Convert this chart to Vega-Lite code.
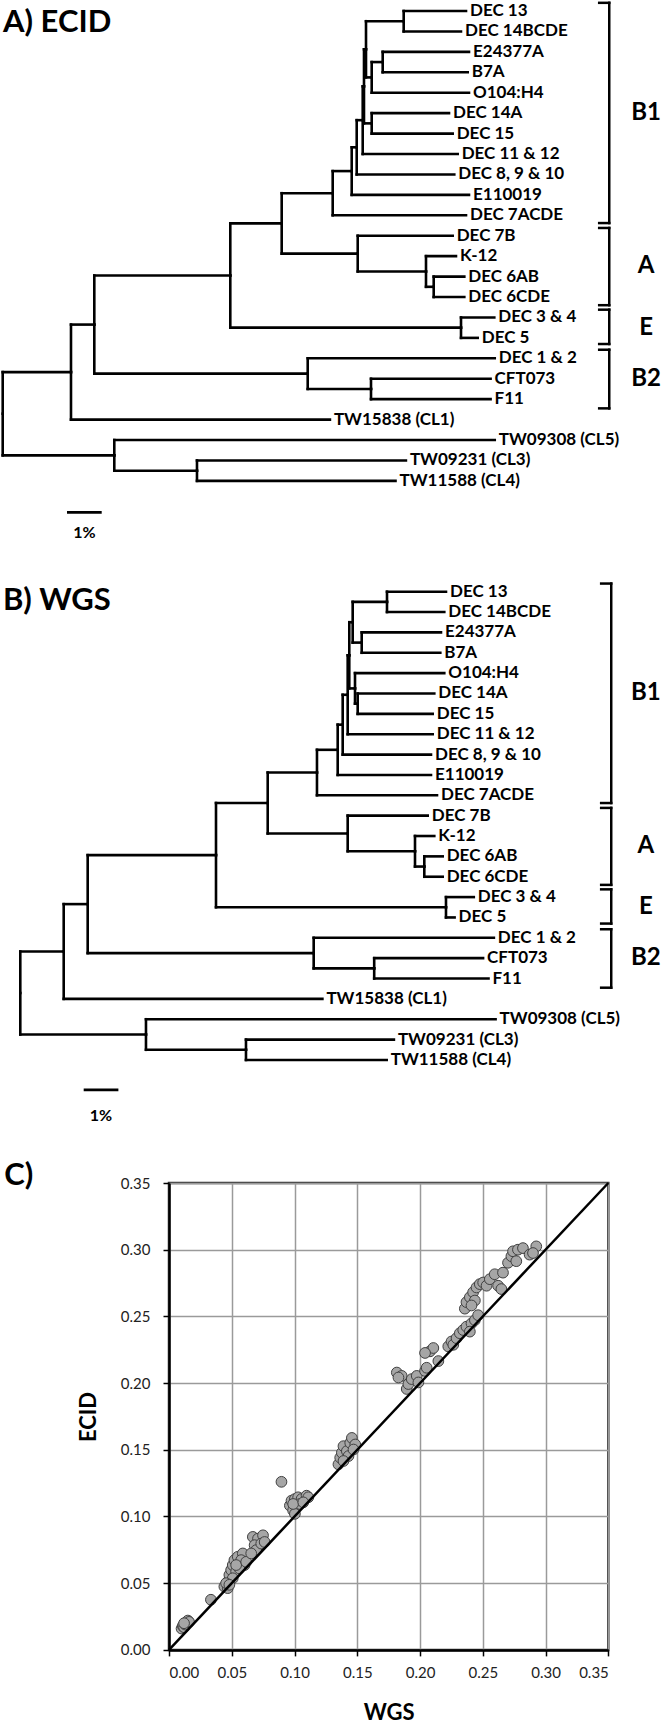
{
  "$schema": "https://vega.github.io/schema/vega-lite/v6.json",
  "padding": 0,
  "background": "white",
  "bounds": "flush",
  "spacing": 0,
  "config": {"view": {"stroke": null}, "font": "Lato"},
  "datasets": {
    "treeA": [
      {"name":"DEC 13","leaf":true,"d":13.352,"y":0,"pd":11.556,"py":0.5},
      {"name":"DEC 14BCDE","leaf":true,"d":13.207,"y":1,"pd":11.556,"py":0.5},
      {"name":"E24377A","leaf":true,"d":13.438,"y":2,"pd":10.951,"py":2.5},
      {"name":"B7A","leaf":true,"d":13.401,"y":3,"pd":10.951,"py":2.5},
      {"name":"O104:H4","leaf":true,"d":13.438,"y":4,"pd":10.634,"py":3.25},
      {"name":"DEC 14A","leaf":true,"d":12.862,"y":5,"pd":10.634,"py":5.5},
      {"name":"DEC 15","leaf":true,"d":12.968,"y":6,"pd":10.634,"py":5.5},
      {"name":"DEC 11 & 12","leaf":true,"d":13.112,"y":7,"pd":10.375,"py":5.344},
      {"name":"DEC 8, 9 & 10","leaf":true,"d":13.014,"y":8,"pd":10.202,"py":6.672},
      {"name":"E110019","leaf":true,"d":13.438,"y":9,"pd":10.058,"py":7.836},
      {"name":"DEC 7ACDE","leaf":true,"d":13.352,"y":10,"pd":9.510,"py":8.918},
      {"name":"DEC 7B","leaf":true,"d":12.968,"y":11,"pd":10.231,"py":11.875},
      {"name":"K-12","leaf":true,"d":13.063,"y":12,"pd":12.199,"py":12.75},
      {"name":"DEC 6AB","leaf":true,"d":13.303,"y":13,"pd":12.421,"py":13.5},
      {"name":"DEC 6CDE","leaf":true,"d":13.303,"y":14,"pd":12.421,"py":13.5},
      {"name":"DEC 3 & 4","leaf":true,"d":14.167,"y":15,"pd":13.208,"py":15.5},
      {"name":"DEC 5","leaf":true,"d":13.689,"y":16,"pd":13.208,"py":15.5},
      {"name":"DEC 1 & 2","leaf":true,"d":14.18,"y":17,"pd":8.790,"py":17.75},
      {"name":"CFT073","leaf":true,"d":14.06,"y":18,"pd":10.614,"py":18.5},
      {"name":"F11","leaf":true,"d":14.06,"y":19,"pd":10.614,"py":18.5},
      {"name":"TW15838 (CL1)","leaf":true,"d":9.43,"y":20,"pd":1.968,"py":17.674},
      {"name":"TW09308 (CL5)","leaf":true,"d":14.18,"y":21,"pd":3.216,"py":21.75},
      {"name":"TW09231 (CL3)","leaf":true,"d":11.62,"y":22,"pd":5.599,"py":22.5},
      {"name":"TW11588 (CL4)","leaf":true,"d":11.32,"y":23,"pd":5.599,"py":22.5},
      {"name":"n1","leaf":false,"d":11.556,"y":0.5,"pd":10.470,"py":1.875},
      {"name":"n2","leaf":false,"d":10.951,"y":2.5,"pd":10.634,"py":3.25},
      {"name":"n3","leaf":false,"d":10.634,"y":3.25,"pd":10.470,"py":1.875},
      {"name":"n4","leaf":false,"d":10.634,"y":5.5,"pd":10.412,"py":3.688},
      {"name":"n5","leaf":false,"d":10.470,"y":1.875,"pd":10.412,"py":3.688},
      {"name":"n6","leaf":false,"d":10.412,"y":3.688,"pd":10.375,"py":5.344},
      {"name":"n7","leaf":false,"d":10.375,"y":5.344,"pd":10.202,"py":6.672},
      {"name":"n8","leaf":false,"d":10.202,"y":6.672,"pd":10.058,"py":7.836},
      {"name":"n9","leaf":false,"d":10.058,"y":7.836,"pd":9.510,"py":8.918},
      {"name":"n10","leaf":false,"d":9.510,"y":8.918,"pd":8.040,"py":10.397},
      {"name":"nA1","leaf":false,"d":12.421,"y":13.5,"pd":12.199,"py":12.75},
      {"name":"nA2","leaf":false,"d":12.199,"y":12.75,"pd":10.231,"py":11.875},
      {"name":"nA3","leaf":false,"d":10.231,"y":11.875,"pd":8.040,"py":10.397},
      {"name":"n11","leaf":false,"d":8.040,"y":10.397,"pd":6.559,"py":12.948},
      {"name":"nE","leaf":false,"d":13.208,"y":15.5,"pd":6.559,"py":12.948},
      {"name":"n12","leaf":false,"d":6.559,"y":12.948,"pd":2.640,"py":15.349},
      {"name":"nB2a","leaf":false,"d":10.614,"y":18.5,"pd":8.790,"py":17.75},
      {"name":"nB2","leaf":false,"d":8.790,"y":17.75,"pd":2.640,"py":15.349},
      {"name":"n13","leaf":false,"d":2.640,"y":15.349,"pd":1.968,"py":17.674},
      {"name":"n14","leaf":false,"d":1.968,"y":17.674,"pd":0,"py":19.712},
      {"name":"nT1","leaf":false,"d":5.599,"y":22.5,"pd":3.216,"py":21.75},
      {"name":"nT2","leaf":false,"d":3.216,"y":21.75,"pd":0,"py":19.712}
    ],
    "treeB": [
      {"name":"DEC 13","leaf":true,"d":12.268,"y":0,"pd":10.568,"py":0.5},
      {"name":"DEC 14BCDE","leaf":true,"d":12.219,"y":1,"pd":10.568,"py":0.5},
      {"name":"E24377A","leaf":true,"d":12.124,"y":2,"pd":9.839,"py":2.5},
      {"name":"B7A","leaf":true,"d":12.104,"y":3,"pd":9.839,"py":2.5},
      {"name":"O104:H4","leaf":true,"d":12.219,"y":4,"pd":9.646,"py":4.75},
      {"name":"DEC 14A","leaf":true,"d":11.931,"y":5,"pd":9.723,"py":5.5},
      {"name":"DEC 15","leaf":true,"d":11.885,"y":6,"pd":9.723,"py":5.5},
      {"name":"DEC 11 & 12","leaf":true,"d":11.885,"y":7,"pd":9.435,"py":5.063},
      {"name":"DEC 8, 9 & 10","leaf":true,"d":11.836,"y":8,"pd":9.291,"py":6.531},
      {"name":"E110019","leaf":true,"d":11.836,"y":9,"pd":9.147,"py":7.766},
      {"name":"DEC 7ACDE","leaf":true,"d":12.009,"y":10,"pd":8.550,"py":8.883},
      {"name":"DEC 7B","leaf":true,"d":11.741,"y":11,"pd":9.435,"py":11.875},
      {"name":"K-12","leaf":true,"d":11.931,"y":12,"pd":11.375,"py":12.75},
      {"name":"DEC 6AB","leaf":true,"d":12.173,"y":13,"pd":11.643,"py":13.5},
      {"name":"DEC 6CDE","leaf":true,"d":12.173,"y":14,"pd":11.643,"py":13.5},
      {"name":"DEC 3 & 4","leaf":true,"d":13.069,"y":15,"pd":12.268,"py":15.5},
      {"name":"DEC 5","leaf":true,"d":12.516,"y":16,"pd":12.268,"py":15.5},
      {"name":"DEC 1 & 2","leaf":true,"d":13.648,"y":17,"pd":8.455,"py":17.75},
      {"name":"CFT073","leaf":true,"d":13.337,"y":18,"pd":10.199,"py":18.5},
      {"name":"F11","leaf":true,"d":13.493,"y":19,"pd":10.199,"py":18.5},
      {"name":"TW15838 (CL1)","leaf":true,"d":8.706,"y":20,"pd":1.251,"py":17.672},
      {"name":"TW09308 (CL5)","leaf":true,"d":13.697,"y":21,"pd":3.622,"py":21.75},
      {"name":"TW09231 (CL3)","leaf":true,"d":10.767,"y":22,"pd":6.504,"py":22.5},
      {"name":"TW11588 (CL4)","leaf":true,"d":10.559,"y":23,"pd":6.504,"py":22.5},
      {"name":"m1","leaf":false,"d":10.568,"y":0.5,"pd":9.579,"py":1.5},
      {"name":"m2","leaf":false,"d":9.839,"y":2.5,"pd":9.579,"py":1.5},
      {"name":"m3","leaf":false,"d":9.579,"y":1.5,"pd":9.481,"py":3.125},
      {"name":"m4","leaf":false,"d":9.723,"y":5.5,"pd":9.646,"py":4.75},
      {"name":"m5","leaf":false,"d":9.646,"y":4.75,"pd":9.481,"py":3.125},
      {"name":"m6","leaf":false,"d":9.481,"y":3.125,"pd":9.435,"py":5.063},
      {"name":"m7","leaf":false,"d":9.435,"y":5.063,"pd":9.291,"py":6.531},
      {"name":"m8","leaf":false,"d":9.291,"y":6.531,"pd":9.147,"py":7.766},
      {"name":"m9","leaf":false,"d":9.147,"y":7.766,"pd":8.550,"py":8.883},
      {"name":"m10","leaf":false,"d":8.550,"y":8.883,"pd":7.130,"py":10.379},
      {"name":"mA1","leaf":false,"d":11.643,"y":13.5,"pd":11.375,"py":12.75},
      {"name":"mA2","leaf":false,"d":11.375,"y":12.75,"pd":9.435,"py":11.875},
      {"name":"mA3","leaf":false,"d":9.435,"y":11.875,"pd":7.130,"py":10.379},
      {"name":"m11","leaf":false,"d":7.130,"y":10.379,"pd":5.640,"py":12.940},
      {"name":"mE","leaf":false,"d":12.268,"y":15.5,"pd":5.640,"py":12.940},
      {"name":"m12","leaf":false,"d":5.640,"y":12.940,"pd":1.942,"py":15.345},
      {"name":"mB2a","leaf":false,"d":10.199,"y":18.5,"pd":8.455,"py":17.75},
      {"name":"mB2","leaf":false,"d":8.455,"y":17.75,"pd":1.942,"py":15.345},
      {"name":"m13","leaf":false,"d":1.942,"y":15.345,"pd":1.251,"py":17.672},
      {"name":"m14","leaf":false,"d":1.251,"y":17.672,"pd":0,"py":19.711},
      {"name":"mT1","leaf":false,"d":6.504,"y":22.5,"pd":3.622,"py":21.75},
      {"name":"mT2","leaf":false,"d":3.622,"y":21.75,"pd":0,"py":19.711}
    ],
    "groups": [
      {"group":"B1","y0":-0.4,"y1":10.38,"mid":5},
      {"group":"A","y0":10.62,"y1":14.4,"mid":12.5},
      {"group":"E","y0":14.62,"y1":16.3,"mid":15.5},
      {"group":"B2","y0":16.58,"y1":19.45,"mid":18}
    ],
    "scatter": [
      {"wgs":0.010,"ecid":0.016},{"wgs":0.011,"ecid":0.018},{"wgs":0.012,"ecid":0.017},{"wgs":0.013,"ecid":0.019},
      {"wgs":0.014,"ecid":0.021},{"wgs":0.015,"ecid":0.022},{"wgs":0.016,"ecid":0.021},{"wgs":0.012,"ecid":0.020},
      {"wgs":0.0334,"ecid":0.0376},
      {"wgs":0.0441,"ecid":0.0475},{"wgs":0.0468,"ecid":0.0512},{"wgs":0.0481,"ecid":0.0562},{"wgs":0.0495,"ecid":0.0599},
      {"wgs":0.0508,"ecid":0.0636},{"wgs":0.0521,"ecid":0.0673},{"wgs":0.0548,"ecid":0.0698},{"wgs":0.0588,"ecid":0.0723},
      {"wgs":0.0575,"ecid":0.0673},{"wgs":0.0602,"ecid":0.0636},{"wgs":0.0535,"ecid":0.0587},{"wgs":0.0508,"ecid":0.0537},
      {"wgs":0.0561,"ecid":0.0611},{"wgs":0.0468,"ecid":0.0463},{"wgs":0.0455,"ecid":0.0500},{"wgs":0.0481,"ecid":0.0488},
      {"wgs":0.0535,"ecid":0.0636},{"wgs":0.0615,"ecid":0.0660},
      {"wgs":0.0668,"ecid":0.0847},{"wgs":0.0709,"ecid":0.0834},{"wgs":0.0749,"ecid":0.0859},{"wgs":0.0682,"ecid":0.0785},
      {"wgs":0.0695,"ecid":0.0748},{"wgs":0.0655,"ecid":0.0723},{"wgs":0.0735,"ecid":0.0797},{"wgs":0.0762,"ecid":0.0809},
      {"wgs":0.0896,"ecid":0.1260},
      {"wgs":0.0963,"ecid":0.1082},{"wgs":0.0976,"ecid":0.1119},{"wgs":0.0989,"ecid":0.1045},{"wgs":0.1003,"ecid":0.1131},
      {"wgs":0.1029,"ecid":0.1144},{"wgs":0.1056,"ecid":0.1131},{"wgs":0.1096,"ecid":0.1156},{"wgs":0.1110,"ecid":0.1144},
      {"wgs":0.1003,"ecid":0.1020},{"wgs":0.1043,"ecid":0.1094},{"wgs":0.0989,"ecid":0.1094},{"wgs":0.1070,"ecid":0.1106},
      {"wgs":0.1350,"ecid":0.1391},{"wgs":0.1364,"ecid":0.1441},{"wgs":0.1377,"ecid":0.1478},{"wgs":0.1390,"ecid":0.1527},
      {"wgs":0.1417,"ecid":0.1490},{"wgs":0.1444,"ecid":0.1552},{"wgs":0.1457,"ecid":0.1589},{"wgs":0.1484,"ecid":0.1540},
      {"wgs":0.1430,"ecid":0.1453},{"wgs":0.1390,"ecid":0.1416},{"wgs":0.1470,"ecid":0.1502},
      {"wgs":0.1815,"ecid":0.2079},{"wgs":0.1854,"ecid":0.2054},{"wgs":0.1828,"ecid":0.2042},{"wgs":0.1894,"ecid":0.1956},
      {"wgs":0.1907,"ecid":0.1993},{"wgs":0.1934,"ecid":0.2030},{"wgs":0.1974,"ecid":0.2054},{"wgs":0.1987,"ecid":0.2005},
      {"wgs":0.2040,"ecid":0.2091},{"wgs":0.2053,"ecid":0.2115},{"wgs":0.2079,"ecid":0.2238},{"wgs":0.2106,"ecid":0.2263},
      {"wgs":0.2040,"ecid":0.2226},{"wgs":0.2146,"ecid":0.2165},{"wgs":0.2225,"ecid":0.2275},{"wgs":0.2251,"ecid":0.2312},
      {"wgs":0.2265,"ecid":0.2287},{"wgs":0.2291,"ecid":0.2337},{"wgs":0.2317,"ecid":0.2374},{"wgs":0.2344,"ecid":0.2398},
      {"wgs":0.2370,"ecid":0.2423},{"wgs":0.2410,"ecid":0.2447},{"wgs":0.2397,"ecid":0.2386},{"wgs":0.2437,"ecid":0.2472},
      {"wgs":0.2463,"ecid":0.2509},{"wgs":0.2357,"ecid":0.2558},{"wgs":0.2370,"ecid":0.2607},{"wgs":0.2397,"ecid":0.2644},
      {"wgs":0.2423,"ecid":0.2681},{"wgs":0.2450,"ecid":0.2717},{"wgs":0.2476,"ecid":0.2742},{"wgs":0.2503,"ecid":0.2754},
      {"wgs":0.2530,"ecid":0.2730},{"wgs":0.2556,"ecid":0.2779},{"wgs":0.2595,"ecid":0.2816},{"wgs":0.2622,"ecid":0.2730},
      {"wgs":0.2648,"ecid":0.2705},{"wgs":0.2661,"ecid":0.2828},{"wgs":0.2437,"ecid":0.2619},{"wgs":0.2410,"ecid":0.2582},
      {"wgs":0.2701,"ecid":0.2902},{"wgs":0.2728,"ecid":0.2951},{"wgs":0.2741,"ecid":0.2988},{"wgs":0.2780,"ecid":0.3000},
      {"wgs":0.2820,"ecid":0.3012},{"wgs":0.2767,"ecid":0.2914},{"wgs":0.2873,"ecid":0.2963},{"wgs":0.2926,"ecid":0.3025},
      {"wgs":0.2900,"ecid":0.2975}
    ]
  },
  "vconcat": [
    {
      "width": 662, "height": 560,
      "data": {"name": "treeA"},
      "layer": [
        {"mark": {"type": "rule", "color": "#000", "strokeWidth": 2.6, "strokeCap": "square"},
         "encoding": {
           "x": {"field": "pd", "type": "quantitative", "scale": {"domain": [-0.049, 19.029], "nice": false, "zero": false}, "axis": null},
           "x2": {"field": "d"},
           "y": {"field": "y", "type": "quantitative", "scale": {"domain": [-0.5384, 26.872], "nice": false, "zero": false, "reverse": true}, "axis": null}}},
        {"mark": {"type": "rule", "color": "#000", "strokeWidth": 2.6, "strokeCap": "square"},
         "encoding": {
           "x": {"field": "pd", "type": "quantitative", "scale": {"domain": [-0.049, 19.029], "nice": false, "zero": false}, "axis": null},
           "y": {"field": "py", "type": "quantitative", "scale": {"domain": [-0.5384, 26.872], "nice": false, "zero": false, "reverse": true}, "axis": null},
           "y2": {"field": "y"}}},
        {"transform": [{"filter": "datum.leaf"}],
         "mark": {"type": "text", "align": "left", "baseline": "middle", "dx": 4, "font": "Lato", "fontWeight": "bold", "fontSize": 17, "color": "#000"},
         "encoding": {
           "x": {"field": "d", "type": "quantitative", "scale": {"domain": [-0.049, 19.029], "nice": false, "zero": false}, "axis": null},
           "y": {"field": "y", "type": "quantitative", "scale": {"domain": [-0.5384, 26.872], "nice": false, "zero": false, "reverse": true}, "axis": null},
           "text": {"field": "name"}}},
        {"data": {"name": "groups"},
         "mark": {"type": "rule", "color": "#000", "strokeWidth": 2.5, "strokeCap": "square"},
         "encoding": {"x": {"datum": 17.48, "type": "quantitative"}, "y": {"field": "y0", "type": "quantitative"}, "y2": {"field": "y1"}}},
        {"data": {"name": "groups"},
         "mark": {"type": "rule", "color": "#000", "strokeWidth": 2.5, "strokeCap": "square"},
         "encoding": {"x": {"datum": 17.19, "type": "quantitative"}, "x2": {"datum": 17.48}, "y": {"field": "y0", "type": "quantitative"}}},
        {"data": {"name": "groups"},
         "mark": {"type": "rule", "color": "#000", "strokeWidth": 2.5, "strokeCap": "square"},
         "encoding": {"x": {"datum": 17.19, "type": "quantitative"}, "x2": {"datum": 17.48}, "y": {"field": "y1", "type": "quantitative"}}},
        {"data": {"name": "groups"},
         "mark": {"type": "text", "align": "center", "baseline": "middle", "font": "Lato", "fontWeight": "bold", "fontSize": 24, "color": "#000"},
         "encoding": {"x": {"datum": 18.54, "type": "quantitative"}, "y": {"field": "mid", "type": "quantitative"}, "text": {"field": "group"}}},
        {"data": {"values": [{"label": "1%"}]},
         "mark": {"type": "rule", "color": "#000", "strokeWidth": 2.6},
         "encoding": {"x": {"datum": 1.853, "type": "quantitative"}, "x2": {"datum": 2.853}, "y": {"datum": 24.54, "type": "quantitative"}}},
        {"data": {"values": [{"label": "1%"}]},
         "mark": {"type": "text", "align": "center", "baseline": "middle", "font": "Lato", "fontWeight": "bold", "fontSize": 16, "color": "#000"},
         "encoding": {"x": {"datum": 2.353, "type": "quantitative"}, "y": {"datum": 25.55, "type": "quantitative"}, "text": {"field": "label"}}},
        {"data": {"values": [{"panel": "A) ECID"}]},
         "mark": {"type": "text", "align": "left", "baseline": "alphabetic", "font": "Lato", "fontWeight": "bold", "fontSize": 31, "color": "#000"},
         "encoding": {"x": {"datum": 0.01, "type": "quantitative"}, "y": {"datum": 1.03, "type": "quantitative"}, "text": {"field": "panel"}}}
      ]
    },
    {
      "width": 662, "height": 622.7,
      "data": {"name": "treeB"},
      "layer": [
        {"mark": {"type": "rule", "color": "#000", "strokeWidth": 2.6, "strokeCap": "square"},
         "encoding": {
           "x": {"field": "pd", "type": "quantitative", "scale": {"domain": [-0.556, 18.522], "nice": false, "zero": false}, "axis": null},
           "x2": {"field": "d"},
           "y": {"field": "y", "type": "quantitative", "scale": {"domain": [-1.557, 29.028], "nice": false, "zero": false, "reverse": true}, "axis": null}}},
        {"mark": {"type": "rule", "color": "#000", "strokeWidth": 2.6, "strokeCap": "square"},
         "encoding": {
           "x": {"field": "pd", "type": "quantitative", "scale": {"domain": [-0.556, 18.522], "nice": false, "zero": false}, "axis": null},
           "y": {"field": "py", "type": "quantitative", "scale": {"domain": [-1.557, 29.028], "nice": false, "zero": false, "reverse": true}, "axis": null},
           "y2": {"field": "y"}}},
        {"transform": [{"filter": "datum.leaf"}],
         "mark": {"type": "text", "align": "left", "baseline": "middle", "dx": 4, "font": "Lato", "fontWeight": "bold", "fontSize": 17, "color": "#000"},
         "encoding": {
           "x": {"field": "d", "type": "quantitative", "scale": {"domain": [-0.556, 18.522], "nice": false, "zero": false}, "axis": null},
           "y": {"field": "y", "type": "quantitative", "scale": {"domain": [-1.557, 29.028], "nice": false, "zero": false, "reverse": true}, "axis": null},
           "text": {"field": "name"}}},
        {"data": {"name": "groups"},
         "mark": {"type": "rule", "color": "#000", "strokeWidth": 2.5, "strokeCap": "square"},
         "encoding": {"x": {"datum": 17.03, "type": "quantitative"}, "y": {"field": "y0", "type": "quantitative"}, "y2": {"field": "y1"}}},
        {"data": {"name": "groups"},
         "mark": {"type": "rule", "color": "#000", "strokeWidth": 2.5, "strokeCap": "square"},
         "encoding": {"x": {"datum": 16.74, "type": "quantitative"}, "x2": {"datum": 17.03}, "y": {"field": "y0", "type": "quantitative"}}},
        {"data": {"name": "groups"},
         "mark": {"type": "rule", "color": "#000", "strokeWidth": 2.5, "strokeCap": "square"},
         "encoding": {"x": {"datum": 16.74, "type": "quantitative"}, "x2": {"datum": 17.03}, "y": {"field": "y1", "type": "quantitative"}}},
        {"data": {"name": "groups"},
         "mark": {"type": "text", "align": "center", "baseline": "middle", "font": "Lato", "fontWeight": "bold", "fontSize": 24, "color": "#000"},
         "encoding": {"x": {"datum": 18.03, "type": "quantitative"}, "y": {"field": "mid", "type": "quantitative"}, "text": {"field": "group"}}},
        {"data": {"values": [{"label": "1%"}]},
         "mark": {"type": "rule", "color": "#000", "strokeWidth": 2.6},
         "encoding": {"x": {"datum": 1.827, "type": "quantitative"}, "x2": {"datum": 2.827}, "y": {"datum": 24.47, "type": "quantitative"}}},
        {"data": {"values": [{"label": "1%"}]},
         "mark": {"type": "text", "align": "center", "baseline": "middle", "font": "Lato", "fontWeight": "bold", "fontSize": 16, "color": "#000"},
         "encoding": {"x": {"datum": 2.327, "type": "quantitative"}, "y": {"datum": 25.75, "type": "quantitative"}, "text": {"field": "label"}}},
        {"data": {"values": [{"panel": "B) WGS"}]},
         "mark": {"type": "text", "align": "left", "baseline": "alphabetic", "font": "Lato", "fontWeight": "bold", "fontSize": 31, "color": "#000"},
         "encoding": {"x": {"datum": -0.5, "type": "quantitative"}, "y": {"datum": 0.9, "type": "quantitative"}, "text": {"field": "panel"}}}
      ]
    },
    {
      "spacing": 0,
      "bounds": "flush",
      "hconcat": [
        {"width": 167.7, "height": 466.9, "data": {"values": [{}]}, "mark": {"type": "point", "opacity": 0}, "encoding": {}},
        {
          "width": 439.3, "height": 466.9,
          "view": {"stroke": "#333", "strokeWidth": 2.5},
          "layer": [
            {"data": {"name": "scatter"},
             "mark": {"type": "circle", "size": 115, "fill": "#a6a6a6", "stroke": "#404040", "strokeWidth": 1, "opacity": 1},
             "encoding": {
               "x": {"field": "wgs", "type": "quantitative", "scale": {"domain": [0, 0.35], "nice": false, "zero": false},
                     "axis": {"values": [0, 0.05, 0.1, 0.15, 0.2, 0.25, 0.3, 0.35], "format": ".2f", "title": "WGS", "grid": true, "gridColor": "#9a9a9a", "gridWidth": 1.5, "domainColor": "#000", "domainWidth": 2.5, "tickColor": "#000", "tickSize": 6, "tickWidth": 1.5, "labelFont": "Lato", "labelFontSize": 15, "labelColor": "#222", "labelPadding": 10, "titleFont": "Lato", "titleFontSize": 22, "titleFontWeight": "bold", "titleColor": "#000", "titlePadding": 22}},
               "y": {"field": "ecid", "type": "quantitative", "scale": {"domain": [0, 0.35], "nice": false, "zero": false},
                     "axis": {"values": [0, 0.05, 0.1, 0.15, 0.2, 0.25, 0.3, 0.35], "format": ".2f", "title": "ECID", "grid": true, "gridColor": "#9a9a9a", "gridWidth": 1.5, "domainColor": "#000", "domainWidth": 2.5, "tickColor": "#000", "tickSize": 6, "tickWidth": 1.5, "labelFont": "Lato", "labelFontSize": 15, "labelColor": "#222", "labelPadding": 13, "titleFont": "Lato", "titleFontSize": 22, "titleFontWeight": "bold", "titleColor": "#000", "titlePadding": 20}}}},
            {"data": {"values": [{}]},
             "mark": {"type": "rule", "color": "#000", "strokeWidth": 2.5},
             "encoding": {"x": {"datum": 0, "type": "quantitative"}, "y": {"datum": 0, "type": "quantitative"}, "x2": {"datum": 0.35}, "y2": {"datum": 0.35}}},
            {"data": {"values": [{"panel": "C)"}]},
             "mark": {"type": "text", "align": "left", "baseline": "alphabetic", "font": "Lato", "fontWeight": "bold", "fontSize": 31, "color": "#000"},
             "encoding": {"x": {"datum": -0.1312, "type": "quantitative"}, "y": {"datum": 0.3483, "type": "quantitative"}, "text": {"field": "panel"}}}
          ]
        }
      ]
    }
  ]
}
